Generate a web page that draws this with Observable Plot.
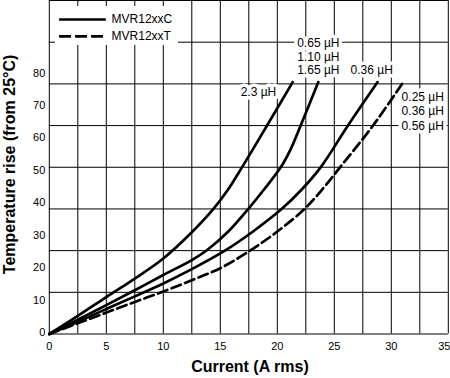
<!DOCTYPE html>
<html><head><meta charset="utf-8">
<script src="https://cdn.jsdelivr.net/npm/d3@7"></script>
<script src="https://cdn.jsdelivr.net/npm/@observablehq/plot@0.6"></script>
<style>html,body{margin:0;padding:0;background:#fff}svg{display:block}</style>
</head><body><div id="chart"></div>
<script>
// ---- data ----
const xTicks = [0, 5, 10, 15, 20, 25, 30, 35];
const yTicks = [0, 10, 20, 30, 40, 50, 60, 70, 80];
const legendNames = ["MVR12xxC", "MVR12xxT"];

// 2.3 µH (MVR12xxC)
const curA_I = [0, 2.5, 5, 7.5, 10, 12.5, 14.4, 15.65, 16.9, 19.1, 21.35];
const curA_T = [0, 5.6, 11.4, 17.1, 23.3, 31.4, 38.6, 44.4, 51.4, 64.3, 77.7];
// 0.65 / 1.10 / 1.65 µH (MVR12xxC)
const curB_I = [0, 2.5, 5, 7.5, 10, 12.5, 13.85, 15.7, 17.46, 18.8, 20.3, 21.2, 22.05, 23.6];
const curB_T = [0, 4.4, 8.9, 13.5, 18.2, 22.8, 25.9, 31.6, 38.6, 44.4, 51.4, 57.2, 64.3, 77.7];
// 0.36 µH (MVR12xxC)
const curC_I = [0, 2.5, 5, 7.5, 10, 12.5, 15.4, 17.9, 20.4, 22.1, 23.8, 26.2, 28.8];
const curC_T = [0, 3.8, 7.7, 11.6, 15.6, 20, 25.7, 31.7, 38.6, 44.4, 51.4, 64.3, 77.7];
// 0.25 / 0.36 / 0.56 µH (MVR12xxT)
const curD_I = [0, 2.5, 5, 7.5, 10, 12.5, 15, 17.6, 20, 22.4, 23.9, 25.5, 28.4, 31.05];
const curD_T = [0, 3.3, 6.6, 9.9, 13.1, 16.6, 20.3, 25.7, 31.6, 38.6, 44.4, 51.4, 64.3, 77.7];

const curveLabels = ["2.3 µH", "0.65 µH", "1.10 µH", "1.65 µH", "0.36 µH", "0.25 µH", "0.36 µH", "0.56 µH"];

// ---- build tables ----
function rows(name, xs, ys) { return xs.map((x, i) => ({s: name, I: x, T: ys[i]})); }
const solid = [...rows("A", curA_I, curA_T), ...rows("B", curB_I, curB_T), ...rows("C", curC_I, curC_T)];
const dashed = rows("D", curD_I, curD_T);

const yMax = 102.86;
const xGrid = d3.range(0, 35.001, 2.5);
const yGrid = d3.range(0, 9).map(i => i * yMax / 8);

// annotation anchors (data units)
const labelPos = [
  [18.35, 74.65], [23.6, 89.85], [23.6, 85.53], [23.6, 81.43],
  [28.28, 81.43], [32.76, 73.2], [32.76, 68.88], [32.76, 64.16]
];
const labels = curveLabels.map((t, i) => ({t, x: labelPos[i][0], y: labelPos[i][1]}));

const font = "'Liberation Sans', Arial, Helvetica, sans-serif";

const chart = Plot.plot({
  width: 450,
  height: 378,
  x: {domain: [0, 35], range: [48.8, 447.8], axis: null},
  y: {domain: [0, yMax], range: [333.5, 0], axis: null},
  style: {fontFamily: font, background: "white", overflow: "visible", color: "#000"},
  marks: [
    Plot.ruleX(xGrid, {x: d => d, y1: 0, y2: yMax, stroke: "#000", strokeWidth: 1}),
    Plot.ruleY(yGrid, {y: d => d, x1: 0, x2: 35, stroke: "#000", strokeWidth: 1}),
    // legend box
    Plot.rect([0], {x1: 0.54, x2: 11.33, y1: 89, y2: 101, fill: "white"}),
    // curve labels with white backing
    Plot.text(labels, {x: "x", y: "y", text: "t", fontSize: 12, fill: "#000",
      stroke: "white", strokeWidth: 7, strokeLinejoin: "round", paintOrder: "stroke"}),
    // curves
    Plot.line(solid, {x: "I", y: "T", z: "s", stroke: "#000", strokeWidth: 2.7, curve: "catmull-rom"}),
    Plot.line(dashed, {x: "I", y: "T", stroke: "#000", strokeWidth: 2.7, curve: "catmull-rom", strokeDasharray: "10,4.5"}),
    // legend
    Plot.ruleY([97], {x1: 0.9, x2: 5.0, stroke: "#000", strokeWidth: 2.6}),
    Plot.ruleY([91.8], {x1: 0.9, x2: 5.0, stroke: "#000", strokeWidth: 2.6, strokeDasharray: "12,4"}),
    Plot.text(legendNames, {x: 5.46, y: (d, i) => i === 0 ? 97 : 91.8, text: d => d, textAnchor: "start", fontSize: 12, fill: "#000"}),
    // tick labels
    Plot.text(xTicks.filter(d => d < 35), {x: d => d, y: 0, text: d => String(d), dy: 12, fontSize: 11, fill: "#000"}),
    Plot.text(xTicks.filter(d => d === 35), {x: d => d, y: 0, text: d => String(d), dy: 12, dx: -4, fontSize: 11, fill: "#000"}),
    Plot.text(yTicks, {x: 0, y: d => d, text: d => String(d), textAnchor: "end", dx: -4, dy: -1.5, fontSize: 11, fill: "#000"}),
    // axis titles
    Plot.text(["Current (A rms)"], {x: 17.6, y: 0, text: d => d, dy: 33, fontSize: 16, fontWeight: "bold", fill: "#000"}),
    Plot.text(["Temperature rise (from 25°C)"], {x: 0, y: 52.3, text: d => d, dx: -39, rotate: -90, fontSize: 16, fontWeight: "bold", fill: "#000"})
  ]
});
document.getElementById("chart").appendChild(chart);
</script>
</body></html>
